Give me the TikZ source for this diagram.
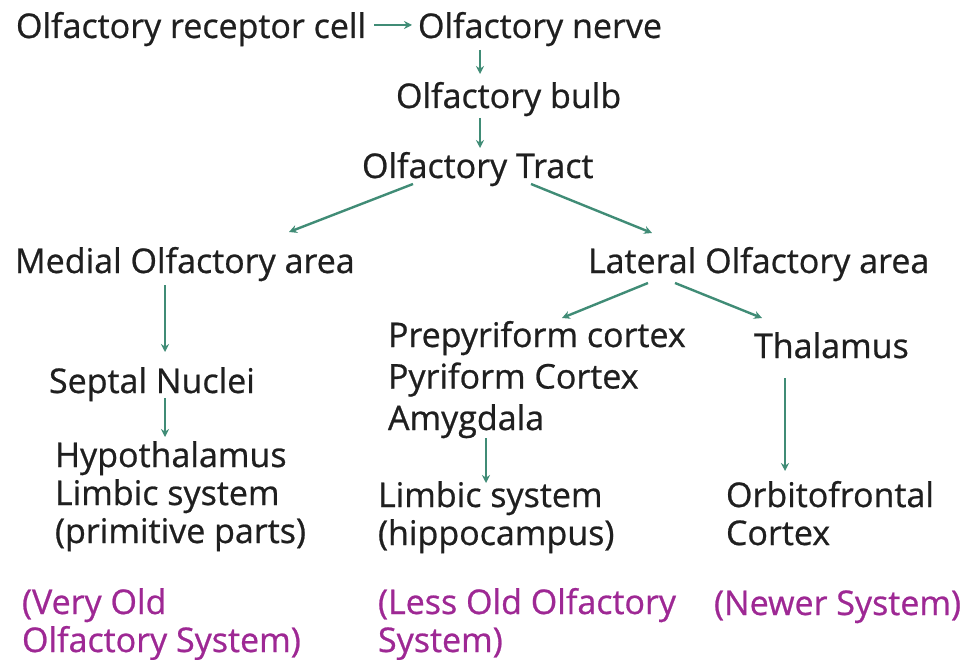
\documentclass[tikz,border=0pt]{standalone}
\usepackage{fontspec}
\setmainfont{Open Sans}[FakeBold=0.7]
\usetikzlibrary{arrows.meta,calc}
\definecolor{arrcol}{RGB}{64,140,118}
\definecolor{sysmag}{RGB}{158,40,148}
\begin{document}
\begin{tikzpicture}[x=1pt,y=-1pt,
  lbl/.style={anchor=base west,inner sep=0pt,outer sep=0pt,align=left,
    font=\fontsize{34}{38}\selectfont,text=black!88},
  sys/.style={lbl,text=sysmag},
  arr/.style={draw=arrcol,line width=2.4pt,-{Stealth[length=8pt,width=8pt]}}]
\useasboundingbox[fill=white] (0,0) rectangle (965,660);
% nodes (multi-line nodes are placed by the baseline of their last line)
\node[lbl] (rc) at (16,38) {Olfactory receptor cell};
\node[lbl] (nerve) at (418,38) {Olfactory nerve};
\node[lbl] (bulb) at (396,108) {Olfactory bulb};
\node[lbl] (tract) at (362,178) {Olfactory Tract};
\node[lbl] (medial) at (15,273) {Medial Olfactory area};
\node[lbl] (lateral) at (588,273) {Lateral Olfactory area};
\node[lbl] (septal) at (49,393) {Septal Nuclei};
\node[lbl,font=\fontsize{34}{41.5}\selectfont] (prepy) at (388,430) {Prepyriform cortex\\Pyriform Cortex\\Amygdala};
\node[lbl] (thal) at (754,358) {Thalamus};
\node[lbl] (hypo) at (55,543) {Hypothalamus\\Limbic system\\(primitive parts)};
\node[lbl] (limbic) at (378,545) {Limbic system\\(hippocampus)};
\node[lbl] (orbito) at (726,545) {Orbitofrontal\\Cortex};
\node[sys] (veryold) at (22,652) {(Very Old\\Olfactory System)};
\node[sys] (lessold) at (378,652) {(Less Old Olfactory\\System)};
\node[sys] (newer) at (714,615) {(Newer System)};
% connectors
\draw[arr] ($(rc.base east)+(8,-13)$) -- ($(nerve.base west)+(-6,-13)$);
\draw[arr] ($(nerve.base west)+(62,12)$) -- ($(bulb.base west)+(84,-34)$);
\draw[arr] ($(bulb.base west)+(84,10)$) -- ($(tract.base west)+(118,-30)$);
\draw[arr] ($(tract.base west)+(51,6)$) -- ($(medial.base west)+(274,-41)$);
\draw[arr] ($(tract.base west)+(169,6)$) -- ($(lateral.base west)+(64,-40)$);
\draw[arr] ($(medial.base west)+(150,12)$) -- ($(septal.base west)+(116,-41)$);
\draw[arr] ($(septal.base west)+(116,5)$) -- ($(hypo.base west)+(110,-106)$);
\draw[arr] ($(lateral.base west)+(60,10)$) -- ($(prepy.base west)+(174,-112)$);
\draw[arr] ($(lateral.base west)+(87,10)$) -- ($(thal.base west)+(8,-40)$);
\draw[arr] ($(prepy.south west)+(98,0)$) -- ($(limbic.base west)+(108,-62)$);
\draw[arr] ($(thal.base west)+(31,20)$) -- ($(orbito.base west)+(59,-74)$);
\end{tikzpicture}
\end{document}
